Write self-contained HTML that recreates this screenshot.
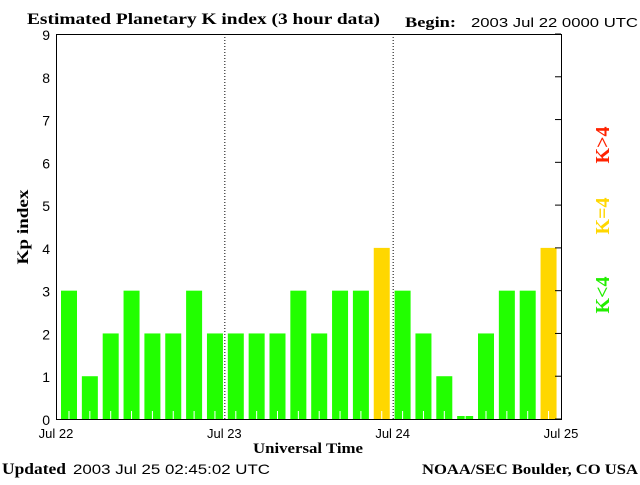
<!DOCTYPE html>
<html><head><meta charset="utf-8"><style>
body{margin:0;background:#fff;width:640px;height:480px;overflow:hidden}
svg text{font-family:"Liberation Sans",sans-serif}
.s{font-family:"Liberation Serif",serif !important;font-weight:bold}
</style></head><body>
<svg id="c" width="640" height="480">
<text x="27" y="24" class="s" font-size="16" textLength="353" lengthAdjust="spacingAndGlyphs">Estimated Planetary K index (3 hour data)</text>
<text x="405" y="27" class="s" font-size="15" textLength="51" lengthAdjust="spacingAndGlyphs">Begin:</text>
<text x="471" y="27" font-size="13" textLength="167" lengthAdjust="spacingAndGlyphs">2003 Jul 22 0000 UTC</text>
<text transform="translate(28,227) rotate(-90)" text-anchor="middle" class="s" font-size="16" textLength="75" lengthAdjust="spacingAndGlyphs">Kp index</text>
<text x="253" y="453" class="s" font-size="15" textLength="110" lengthAdjust="spacingAndGlyphs">Universal Time</text>
<text x="2" y="474" class="s" font-size="16" textLength="64" lengthAdjust="spacingAndGlyphs">Updated</text>
<text x="73" y="474" font-size="14" textLength="197" lengthAdjust="spacingAndGlyphs">2003 Jul 25 02:45:02 UTC</text>
<text x="422" y="474" class="s" font-size="15" textLength="216" lengthAdjust="spacingAndGlyphs">NOAA/SEC Boulder, CO USA</text>
<text transform="translate(609,295) rotate(-90)" text-anchor="middle" class="s" font-size="20" fill="#22ee00">K&lt;4</text>
<text transform="translate(609,216) rotate(-90)" text-anchor="middle" class="s" font-size="20" fill="#ffd700">K=4</text>
<text transform="translate(609,145) rotate(-90)" text-anchor="middle" class="s" font-size="20" fill="#ff2200">K&gt;4</text>
<g id="g"></g>
</svg>
<script>
const kpValues=[3,1,2,3,2,2,3,2, 2,2,2,3,2,3,3,4, 3,2,1,0.07,2,3,3,4];
const yTicks=[0,1,2,3,4,5,6,7,8,9];
const dayLabels=["Jul 22","Jul 23","Jul 24","Jul 25"];
const NS="http://www.w3.org/2000/svg";
const g=document.getElementById('g');
const L=56,R=561,T=34,B=419;
const y=v=>B-v*(B-T)/9;
const xDay=d=>L+d*(R-L)/(dayLabels.length-1);
const slot=20.85;
const xBar=i=>61+i*slot;
function mk(t,a){const e=document.createElementNS(NS,t);for(const k in a)e.setAttribute(k,a[k]);g.appendChild(e);return e;}
kpValues.forEach((v,i)=>{
 const c=v>4?'#ff2200':(v>=4?'#ffd700':'#22ff00');
 const r=mk('rect',{x:xBar(i),y:y(v),width:16,height:B-y(v),fill:c});
 
 
 const t=mk('line',{x1:xBar(i)+8,x2:xBar(i)+8,y1:B-8,y2:B,stroke:'#fff','stroke-width':1});
 
 
});
yTicks.forEach(v=>{
 const t=mk('text',{x:50,y:y(v)+6,'text-anchor':'end','font-size':14});
 t.textContent=v;
 
 
 const k=mk('line',{x1:R-6,x2:R,y1:y(v),y2:y(v),stroke:'#000'});
 
 
});
dayLabels.forEach((d,i)=>{
 const t=mk('text',{x:xDay(i),y:438,'text-anchor':'middle','font-size':13});
 t.textContent=d;
 
 
 if(i>0&&i<dayLabels.length-1){
  const l=mk('line',{x1:xDay(i)+0.5,x2:xDay(i)+0.5,y1:T,y2:B,stroke:'#000','stroke-dasharray':'1,2'});
  
  
 }
});
const f=mk('rect',{x:L+0.5,y:T+0.5,width:R-L,height:B-T,fill:'none',stroke:'#000'});


</script>
</body></html>
